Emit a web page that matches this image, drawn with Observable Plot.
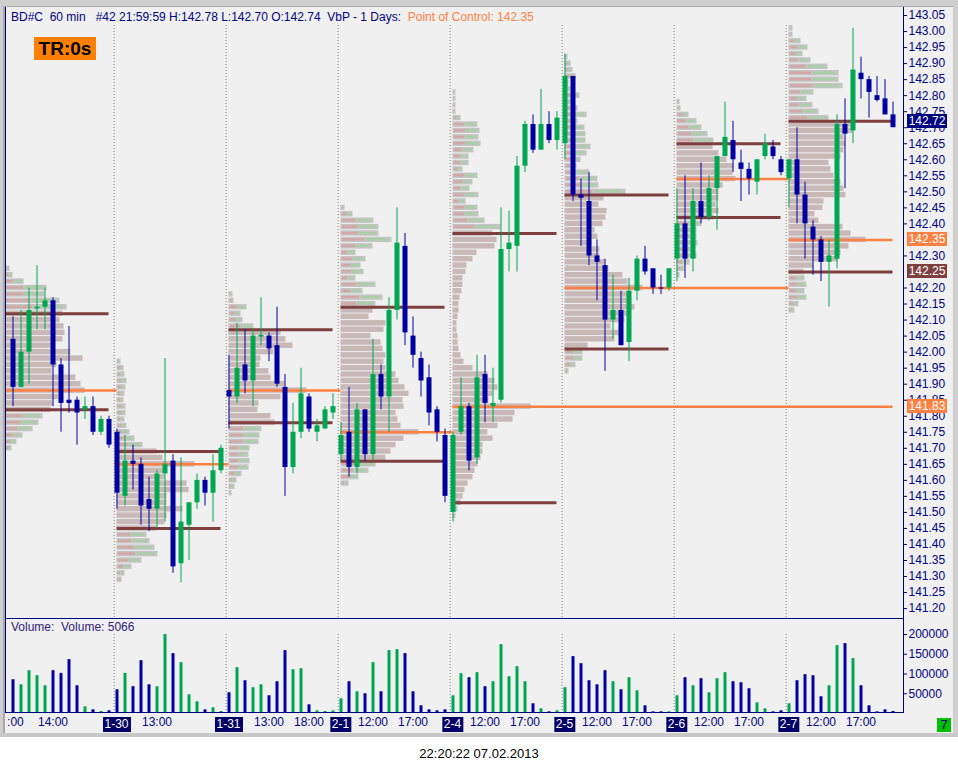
<!DOCTYPE html>
<html><head><meta charset="utf-8">
<script src="https://cdn.jsdelivr.net/npm/d3@7"></script>
<script src="https://cdn.jsdelivr.net/npm/@observablehq/plot@0.6"></script>
<style>
body{margin:0;background:#fff;}
#wrap{position:relative;width:958px;height:771px;overflow:hidden;font-family:"Liberation Sans",Arial,sans-serif;}
.abs{position:absolute;}
.plab{position:absolute;left:907px;width:40px;height:14px;line-height:14px;font-size:12px;color:#fff;text-align:center;}
.dlab{position:absolute;top:717px;height:15px;line-height:15px;font-size:12px;color:#fff;background:#000066;padding:0 2px;transform:translateX(-50%);}
</style></head><body>
<svg width="0" height="0" style="position:absolute"><defs>
<linearGradient id="delta" x1="0" x2="1" y1="0" y2="0">
<stop offset="0" stop-color="#d4a6a6"/><stop offset="0.45" stop-color="#d4a6a6"/>
<stop offset="0.45" stop-color="#c4c4c4"/><stop offset="0.5" stop-color="#c4c4c4"/>
<stop offset="0.5" stop-color="#a8cfa6"/><stop offset="0.95" stop-color="#a8cfa6"/>
<stop offset="0.95" stop-color="#c4c4c4"/><stop offset="1" stop-color="#c4c4c4"/>
</linearGradient></defs></svg>
<div id="wrap">
  <div class="abs" style="left:0;top:0;width:958px;height:737px;background:#f0f0f0"></div>
  <div id="price" class="abs" style="left:0;top:0"></div>
  <div id="vol" class="abs" style="left:0;top:618px"></div>
</div>
<script>
// ---------- DATA ----------
// OHLC per trading day (60-min bars, 08:00..21:00); day 1's 08:00 bar is off the left edge
const day1 = [[142.04,142.11,141.83,141.89],[141.89,142.13,141.89,142.00],[142.00,142.20,141.90,142.13],[142.135,142.27,142.07,142.14],[142.14,142.20,142.07,142.16],[142.16,142.17,141.83,141.96],[141.96,141.98,141.75,141.84],[141.85,142.08,141.81,141.84],[141.85,141.86,141.71,141.81],[141.82,141.86,141.79,141.83],[141.83,141.86,141.74,141.75],[141.75,141.80,141.74,141.79],[141.79,141.80,141.70,141.71]];
const day2 = [[141.75,141.76,141.51,141.56],[141.55,141.74,141.52,141.66],[141.66,141.71,141.57,141.65],[141.65,141.67,141.46,141.52],[141.54,141.61,141.44,141.51],[141.51,141.63,141.45,141.62],[141.62,141.98,141.47,141.65],[141.66,141.68,141.31,141.33],[141.34,141.67,141.28,141.47],[141.46,141.53,141.35,141.53],[141.53,141.62,141.51,141.60],[141.60,141.61,141.52,141.56],[141.56,141.68,141.47,141.63],[141.63,141.71,141.62,141.70]];
const day3 = [[141.88,141.99,141.76,141.86],[141.86,142.09,141.84,141.95],[141.96,142.07,141.87,141.91],[141.91,142.07,141.83,142.05],[142.047,142.17,142.02,142.052],[142.05,142.06,141.97,142.01],[142.02,142.14,141.89,141.90],[141.89,141.93,141.55,141.64],[141.64,141.84,141.62,141.75],[141.75,141.95,141.73,141.87],[141.86,141.87,141.75,141.76],[141.75,141.79,141.72,141.77],[141.76,141.83,141.76,141.82],[141.81,141.87,141.79,141.83]];
const day4 = [[141.68,141.78,141.66,141.74],[141.75,141.89,141.61,141.64],[141.64,141.84,141.62,141.82],[141.82,141.82,141.66,141.68],[141.68,142.04,141.66,141.93],[141.93,141.96,141.82,141.86],[141.86,142.17,141.75,142.13],[142.13,142.45,142.10,142.34],[142.33,142.37,142.02,142.06],[142.05,142.11,141.95,141.99],[141.98,142.00,141.86,141.91],[141.92,141.96,141.77,141.81],[141.82,141.83,141.72,141.75],[141.74,141.76,141.53,141.55]];
const day5 = [[141.50,141.75,141.47,141.74],[141.75,141.92,141.74,141.83],[141.83,141.84,141.63,141.66],[141.67,141.99,141.65,141.92],[141.93,141.99,141.78,141.84],[141.83,141.95,141.78,141.84],[141.85,142.45,141.84,142.32],[142.32,142.44,142.25,142.34],[142.33,142.61,142.25,142.58],[142.58,142.72,142.56,142.71],[142.71,142.74,142.62,142.63],[142.63,142.82,142.63,142.71],[142.71,142.75,142.65,142.66],[142.66,142.75,142.63,142.73]];
const day6 = [[142.65,142.93,142.60,142.86],[142.86,142.86,142.47,142.49],[142.49,142.54,142.33,142.48],[142.47,142.56,142.27,142.30],[142.30,142.35,142.16,142.28],[142.27,142.29,141.94,142.10],[142.10,142.24,142.04,142.13],[142.13,142.19,142.02,142.02],[142.03,142.23,141.97,142.19],[142.19,142.30,142.16,142.29],[142.29,142.33,142.24,142.25],[142.26,142.26,142.18,142.20],[142.20,142.24,142.18,142.197],[142.20,142.26,142.19,142.26]];
const day7 = [[142.29,142.51,142.22,142.40],[142.40,142.55,142.23,142.29],[142.29,142.51,142.25,142.47],[142.47,142.59,142.40,142.42],[142.42,142.55,142.41,142.51],[142.51,142.61,142.38,142.61],[142.61,142.78,142.61,142.67],[142.66,142.72,142.56,142.60],[142.59,142.63,142.47,142.57],[142.57,142.59,142.49,142.54],[142.53,142.60,142.49,142.60],[142.61,142.68,142.60,142.65],[142.64,142.66,142.60,142.61],[142.60,142.61,142.55,142.56]];
const day8 = [[142.54,142.60,142.45,142.60],[142.60,142.70,142.40,142.49],[142.49,142.53,142.29,142.40],[142.39,142.41,142.24,142.35],[142.35,142.36,142.22,142.28],[142.28,142.35,142.14,142.30],[142.29,142.74,142.26,142.71],[142.71,142.79,142.51,142.68],[142.69,143.01,142.65,142.88],[142.87,142.92,142.79,142.85],[142.85,142.86,142.73,142.81],[142.80,142.86,142.78,142.785],[142.79,142.85,142.74,142.74],[142.74,142.78,142.70,142.70]];

// Volume per bar
const vol1 = [85500,72800,108400,95700,70300,108400,101600,136400,70300,16900,9300,5100,6800];
const vol2 = [60100,101600,67800,133800,72800,67800,199900,151600,128700,47400,29600,9300,14400,5100];
const vol3 = [52500,116000,83000,65200,72800,44900,80500,159200,111000,113500,22000,6800,5100,6800];
const vol4 = [37300,80500,55100,50000,128700,55100,159200,161800,151600,55100,19500,9300,6800,9300];
const vol5 = [44900,100800,90600,103300,67800,80500,174500,93200,118600,80500,24600,11900,4200,6800];
const vol6 = [65200,144000,126200,83000,72800,108400,80500,60100,90600,57600,19500,4200,4200,4200];
const vol7 = [44900,90600,70300,88100,52500,88100,103300,80500,77900,62700,27100,11900,4200,6800];
const vol8 = [24600,83000,98300,95700,42400,70300,171900,177000,138900,70300,19500,4200,9300,5066];

// Volume-by-price profiles (relative volume, 0.02 price steps from the top price downward)
const profTop = [142.26, 141.97, 142.18, 142.45, 142.81, 142.92, 142.78, 143.01];
const prof1 = [5,8,19,42,40,55,62,58,55,59,60,58,47,66,78,52,47,71,76,80,54,48,46,38,34,28,18,12,7];
const prof2 = [4,7,8,10,9,8,7,9,9,8,10,13,18,26,40,46,78,50,48,70,72,50,50,66,50,48,40,30,33,38,41,25,15,8,5];
const prof3 = [4,5,18,12,14,25,52,57,64,45,32,31,40,42,56,78,52,30,29,42,46,33,31,30,21,20,21,20,13,8,6,3];
const prof4 = [4,12,33,38,38,51,32,15,25,20,23,15,35,22,42,35,32,28,45,43,30,40,42,45,43,45,55,58,64,68,62,63,55,57,60,78,63,55,50,45,35,28,18,8];
const prof5 = [3,3,3,3,8,25,27,26,28,21,16,16,10,25,20,17,26,13,25,26,32,48,40,44,42,24,20,14,13,10,10,9,7,6,6,5,4,4,5,5,6,8,11,20,35,42,45,40,36,78,62,60,45,35,40,30,30,28,25,22,20,15,12,10,8,5,3];
const prof6 = [3,6,8,11,4,6,15,10,13,22,13,20,21,21,26,22,16,12,25,33,34,61,39,34,42,41,38,30,33,27,35,35,40,44,58,63,78,64,66,70,66,60,46,55,50,23,18,18,11,4];
const prof7 = [3,4,12,20,25,31,37,36,42,50,57,56,59,46,42,42,39,42,37,25,20,20,21,17,20,13,8,3];
const prof8 = [4,4,12,19,14,22,39,50,50,54,25,18,24,30,40,62,64,55,57,55,52,40,42,45,52,55,57,35,34,26,30,54,62,77,60,52,49,25,15,16,18,16,18,10,6];

// Value area high / point of control / value area low per day
const vah = [142.12, 141.69, 142.07, 142.14, 142.37, 142.49, 142.65, 142.72];
const poc = [141.88, 141.65, 141.88, 141.75, 141.83, 142.20, 142.54, 142.35];
const val = [141.82, 141.45, 141.78, 141.66, 141.53, 142.01, 142.42, 142.25];
const pocEnd = [14, 28, 42, 56, 111, 98, 98, 111]; // bar where the POC line stops (naked POCs run on)

const priceTicks = [141.20,141.25,141.30,141.35,141.40,141.45,141.50,141.55,141.60,141.65,141.70,141.75,141.80,141.85,141.90,141.95,142.00,142.05,142.10,142.15,142.20,142.30,142.40,142.45,142.50,142.55,142.60,142.65,142.70,142.75,142.80,142.85,142.90,142.95,143.00,143.05];
const volTicks = [50000, 100000, 150000, 200000];
const dayLabels = ["1-29","1-30","1-31","2-1","2-4","2-5","2-6","2-7"];
const hourLabels = [[1.3,":00"],[6,"14:00"],[19,"13:00"],[33,"13:00"],[38,"18:00"],[46,"12:00"],[51,"17:00"],[60,"12:00"],[65,"17:00"],[74,"12:00"],[79,"17:00"],[88,"12:00"],[93,"17:00"],[102,"12:00"],[107,"17:00"]];
const priceMarkers = [[142.72,"#000080"],[142.35,"#ff8040"],[142.25,"#7f3f3f"],[141.83,"#ff8040"]];

// ---------- BUILD ----------
const BARS_PER_DAY = 14;
const navy = "#000080", up = "#00a650", down = "#0000a0";
const days = [day1,day2,day3,day4,day5,day6,day7,day8];
const vols = [vol1,vol2,vol3,vol4,vol5,vol6,vol7,vol8];
const profs = [prof1,prof2,prof3,prof4,prof5,prof6,prof7,prof8];
const bars = [];
days.forEach((d, k) => {
  const first = k === 0 ? 1 : 0;
  d.forEach((r, j) => bars.push({i: k*BARS_PER_DAY + first + j, o: r[0], h: r[1], l: r[2], c: r[3], v: vols[k][j]}));
});
bars.forEach(b => b.col = b.c >= b.o ? up : down);
const dayStart = days.map((d, k) => k*BARS_PER_DAY);
const seps = dayStart.slice(1).map(s => s - 0.35);
const rows = [];
profs.forEach((p, k) => p.forEach((v, j) => {
  const price = profTop[k] - j*0.02;
  rows.push({x1: dayStart[k], x2: dayStart[k] + v/8, y1: price + 0.01, y2: price - 0.01,
             inVA: price <= vah[k] + 0.005 && price >= val[k] - 0.005});
}));
const vaLines = [];
dayStart.forEach((s, k) => { vaLines.push({y: vah[k], x1: s, x2: s + 13}); vaLines.push({y: val[k], x1: s, x2: s + 13}); });
const pocLines = dayStart.map((s, k) => ({y: poc[k], x1: s, x2: pocEnd[k]}));

// geometry
const BAR_PX = 8, FIRST_BAR_X = 4.5, FRAME_L = 6, FRAME_R = 903;
const xDomain = [(FRAME_L - FIRST_BAR_X)/BAR_PX, (FRAME_R - FIRST_BAR_X)/BAR_PX];
const font = "Liberation Sans, Arial, sans-serif";

const priceChart = Plot.plot({
  width: 958, height: 618, marginLeft: FRAME_L, marginRight: 958 - FRAME_R, marginTop: 7, marginBottom: 0,
  style: {background: "transparent", fontFamily: font, fontSize: "12px", overflow: "visible"},
  x: {domain: xDomain, axis: null},
  y: {domain: [141.1691, 143.0750], axis: null},
  marks: [
    Plot.ruleX(seps, {stroke: "#808080", strokeDasharray: "1,2", insetTop: 18}),
    Plot.rect(rows, {x1: "x1", x2: "x2", y1: "y1", y2: "y2", fill: d => d.inVA ? "#c9b8b8" : "#c4c4c4", insetTop: 0.5, insetBottom: 0.5, clip: true}),
    Plot.rect(rows.filter(d => !d.inVA), {x1: "x1", x2: "x2", y1: "y1", y2: "y2", fill: "url(#delta)", insetTop: 2, insetBottom: 2, insetLeft: 1, insetRight: 1, clip: true}),
    Plot.ruleY(vaLines, {y: "y", x1: "x1", x2: "x2", stroke: "#7f3f3f", strokeWidth: 3, clip: true}),
    Plot.ruleY(pocLines, {y: "y", x1: "x1", x2: "x2", stroke: "#ff8040", strokeWidth: 2.5, clip: true}),
    Plot.ruleX(bars, {x: "i", y1: "l", y2: "h", stroke: "col", strokeWidth: 1}),
    Plot.ruleX(bars, {x: "i", y1: "o", y2: "c", stroke: "col", strokeWidth: 5}),
    Plot.axisY(priceTicks, {anchor: "right", label: null, tickSize: 3, tickPadding: 2, tickFormat: d3.format(".2f"), color: navy, fontSize: 12})
  ]
});
document.getElementById("price").appendChild(priceChart);

const volChart = Plot.plot({
  width: 958, height: 119, marginLeft: FRAME_L, marginRight: 958 - FRAME_R, marginTop: 0, marginBottom: 24,
  style: {background: "transparent", fontFamily: font, fontSize: "12px", overflow: "visible"},
  x: {domain: xDomain, axis: null},
  y: {domain: [0, 240500], axis: null},
  marks: [
    Plot.ruleX(seps, {y1: 0, y2: d3.max(volTicks), stroke: "#808080", strokeDasharray: "1,2"}),
    Plot.ruleX(bars, {x: "i", y1: 0, y2: "v", stroke: "col", strokeWidth: 3}),
    Plot.axisY(volTicks, {anchor: "right", label: null, tickSize: 3, tickPadding: 2, color: navy, fontSize: 12, tickFormat: d => String(d)}),
    Plot.text(hourLabels, {x: d => d[0], text: d => d[1], frameAnchor: "bottom", dy: 12, fill: navy, fontSize: 12})
  ]
});
document.getElementById("vol").appendChild(volChart);

// ---------- OVERLAYS ----------
const wrap = document.getElementById("wrap");
function add(html) { wrap.insertAdjacentHTML("beforeend", html); }
const sx = priceChart.scale("x"), sy = priceChart.scale("y");
dayStart.slice(1).forEach((s, k) => add(`<div class="dlab" style="left:${sx.apply(s)}px">${dayLabels[k+1]}</div>`));
priceMarkers.forEach(([p, c]) => add(`<div class="plab" style="top:${sy.apply(p) - 7}px;background:${c}">${p.toFixed(2)}</div>`));
// frame lines and window border
add(`<div class="abs" style="left:5px;top:7px;width:1px;height:706px;background:${navy}"></div>`);
add(`<div class="abs" style="left:903px;top:7px;width:1px;height:706px;background:${navy}"></div>`);
add(`<div class="abs" style="left:5px;top:618px;width:899px;height:1px;background:${navy}"></div>`);
add(`<div class="abs" style="left:5px;top:712px;width:899px;height:1px;background:${navy}"></div>`);
add(`<div class="abs" style="left:0;top:0;width:958px;height:6px;background:#cfcfcf;border-bottom:1px solid #a8a8a8"></div>`);
add(`<div class="abs" style="left:0;top:0;width:3px;height:737px;background:#cfcfcf"></div>`);
add(`<div class="abs" style="left:3px;top:6px;width:2px;height:731px;background:#a8a8a8"></div>`);
add(`<div class="abs" style="left:953px;top:0;width:5px;height:737px;background:#cfcfcf"></div>`);
add(`<div class="abs" style="left:0;top:733px;width:958px;height:4px;background:#c8c8c8"></div>`);
// texts
add(`<div class="abs" style="left:11px;top:10px;font-size:12px;line-height:14px;white-space:pre;color:${navy}">BD#C  60 min   #42 21:59:59 H:142.78 L:142.70 O:142.74  VbP - 1 Days:  <span style="color:#ff8040">Point of Control: 142.35</span></div>`);
add(`<div class="abs" style="left:34px;top:37px;width:62px;height:23px;line-height:23px;background:#ff8000;color:#000;font-weight:bold;font-size:19px;text-align:center">TR:0s</div>`);
add(`<div class="abs" style="left:11px;top:620px;font-size:12px;line-height:14px;white-space:pre;color:#30207a">Volume:  Volume: ${vol8[vol8.length-1]}</div>`);
add(`<div class="abs" style="left:937px;top:718px;width:14px;height:14px;line-height:14px;background:#00c000;color:${navy};font-size:13px;text-align:center">${days.length - 1}</div>`);
add(`<div class="abs" style="left:0;top:746px;width:958px;text-align:center;font-size:13px;line-height:15px;color:#000">22:20:22 07.02.2013</div>`);
</script>
</body></html>
